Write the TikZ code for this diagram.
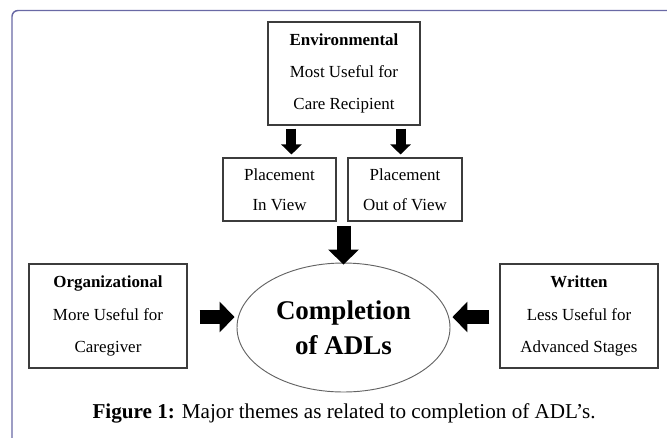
\documentclass[tikz,border=0pt]{standalone}
\usepackage{fontspec}
\setmainfont{Liberation Serif}
\usetikzlibrary{shapes.geometric,arrows.meta,calc}
\definecolor{framecol}{RGB}{105,105,165}
\definecolor{boxline}{RGB}{60,60,60}
\tikzset{
  themebox/.style={draw=boxline, line width=0.8pt, rectangle, inner sep=0pt, align=center,
    font=\fontsize{12.7pt}{24.3pt}\selectfont},
  smallbox/.style={themebox, font=\fontsize{12.7pt}{22.5pt}\selectfont},
  centre/.style={draw=boxline!80, line width=0.7pt, ellipse, inner sep=0pt, align=center,
    minimum width=159.75pt, minimum height=96.75pt,
    font=\fontsize{20.25pt}{26.25pt}\selectfont\bfseries},
  sarrow/.style={line width=7.5pt, -{Triangle[width=15pt,length=7.5pt]}},
  barrow/.style={line width=10.5pt, -{Triangle[width=22.5pt,length=11.25pt]}},
  framestyle/.style={draw=framecol, line width=1.1pt, rounded corners=4.5pt},
}
\begin{document}
\begin{tikzpicture}[x=0.75pt,y=-0.75pt]
\useasboundingbox (0,0) rectangle (667,437);
\clip (0,0) rectangle (667,437);
\draw[framestyle] (12,450) -- (12,10.5) -- (680,10.5);

\node[themebox, minimum width=114pt, minimum height=77.25pt] (env) at (344,73.5)
  {\textbf{Environmental}\\Most Useful for\\Care Recipient};
\node[smallbox, minimum width=84.75pt, minimum height=47.25pt] (iv) at (279.5,189.5)
  {Placement\\In View};
\node[smallbox, minimum width=85.5pt, minimum height=47.25pt] (ov) at (405,189.5)
  {Placement\\Out of View};
\node[themebox, minimum width=118.5pt, minimum height=78pt] (org) at (108,316)
  {\textbf{Organizational}\\More Useful for\\Caregiver};
\node[themebox, minimum width=118.5pt, minimum height=78pt] (wr) at (579,316)
  {\textbf{Written}\\Less Useful for\\Advanced Stages};
\node[centre] (ell) at (343.5,327.5) {Completion\\of ADLs};

\path (env.south west) ++(24,0) coordinate (a1);
\path (env.south east) ++(-20,0) coordinate (a2);
\draw[sarrow, shorten <=2.25pt, shorten >=2.25pt] (a1) -- (a1 |- iv.north);
\draw[sarrow, shorten <=2.25pt, shorten >=2.25pt] (a2) -- (a2 |- ov.north);
\draw[barrow, shorten <=3pt, shorten >=-1.5pt] (ell.north |- iv.south) -- (ell.north);
\draw[barrow, shorten <=9pt, shorten >=1.5pt] ([yshift=-0.75pt]org.east) -- ([yshift=-0.75pt]org.east -| ell.west);
\draw[barrow, shorten <=7.5pt, shorten >=1.5pt] ([yshift=-0.75pt]wr.west) -- ([yshift=-0.75pt]wr.west -| ell.east);

\node[font=\fontsize{15.85pt}{18pt}\selectfont, inner sep=0pt] (cap) at (344,413)
  {\textbf{Figure 1:} Major themes as related to completion of ADL’s.};
\end{tikzpicture}
\end{document}
